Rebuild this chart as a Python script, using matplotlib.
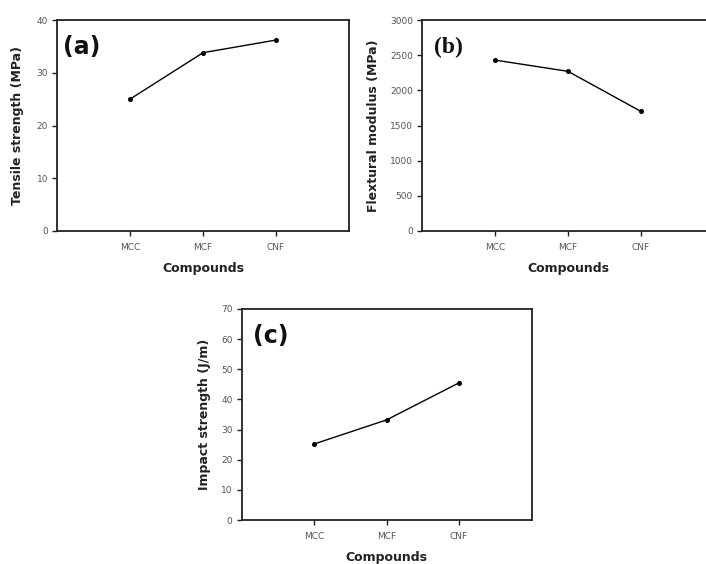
import matplotlib
matplotlib.use("Agg")
import matplotlib.pyplot as plt

categories = ["MCC", "MCF", "CNF"]
tensile = [25.0, 33.8, 36.2]
flexural = [2430, 2270, 1700]
impact = [25.2, 33.2, 45.5]

tensile_ticks = [0, 10, 20, 30, 40]
flexural_ticks = [0, 500, 1000, 1500, 2000, 2500, 3000]
impact_ticks = [0, 10, 20, 30, 40, 50, 60, 70]

fig = plt.figure(figsize=(7.06, 5.64), dpi=100)

panels = [
    dict(rect=[57/706, 333/564, 292/706, 211/564], y=tensile, ticks=tensile_ticks,
         ylabel="Tensile strength (MPa)", label="(a)", lfam="DejaVu Sans",
         xl=0.02, lp=9),
    dict(rect=[422/706, 333/564, 292/706, 211/564], y=flexural, ticks=flexural_ticks,
         ylabel="Flextural modulus (MPa)", label="(b)", lfam="Liberation Serif",
         xl=0.04, lp=7),
    dict(rect=[241.5/706, 44/564, 290/706, 211/564], y=impact, ticks=impact_ticks,
         ylabel="Impact strength (J/m)", label="(c)", lfam="DejaVu Sans",
         xl=0.04, lp=7),
]

for p in panels:
    ax = fig.add_axes(p["rect"])
    x = list(range(1, len(categories) + 1))
    ax.plot(x, p["y"], color="black", lw=1.0, marker="o", ms=2.6,
            markerfacecolor="black", markeredgecolor="black")
    ax.set_xlim(0, 4)
    ax.set_ylim(p["ticks"][0], p["ticks"][-1])
    ax.set_yticks(p["ticks"])
    ax.set_xticks(x)
    ax.set_xticklabels(categories)
    for s in ax.spines.values():
        s.set_linewidth(1.3)
        s.set_color("#222222")
    ax.tick_params(direction="out", length=3.5, width=1.0, labelsize=6.5,
                   labelcolor="#555555", color="#222222", pad=3)
    ax.tick_params(axis="x", pad=5)
    ax.set_xlabel("Compounds", fontsize=9, fontweight="bold", color="#222222",
                  labelpad=7)
    ax.set_ylabel(p["ylabel"], fontsize=9, fontweight="bold", color="#222222",
                  labelpad=p["lp"])
    ax.text(p["xl"], 0.87, p["label"], transform=ax.transAxes, fontsize=17,
            fontweight="bold", family=p["lfam"], color="#111111",
            ha="left", va="center")

fig.savefig("out.png", dpi=100)
